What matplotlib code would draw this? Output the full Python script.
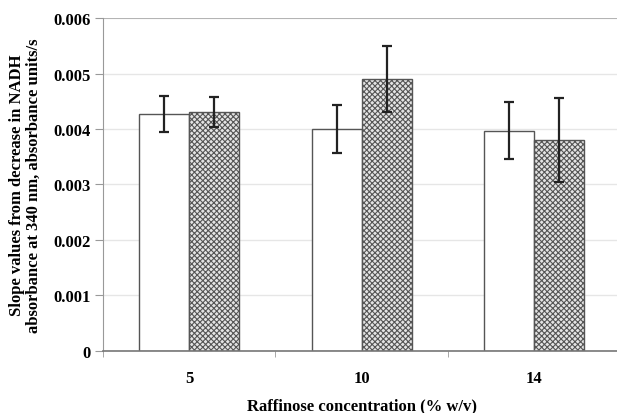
import matplotlib
matplotlib.use("Agg")
import matplotlib.pyplot as plt
import numpy as np

categories = ["5", "10", "14"]
series_a = [0.00427, 0.00400, 0.00397]
err_a = [0.00033, 0.00043, 0.00051]
series_b = [0.00430, 0.00490, 0.00380]
err_b = [0.00027, 0.00060, 0.00075]
yticks = [0, 0.001, 0.002, 0.003, 0.004, 0.005, 0.006]
ytick_labels = ["0", "0.001", "0.002", "0.003", "0.004", "0.005", "0.006"]

plt.rcParams['font.family'] = ['Liberation Serif', 'DejaVu Serif']
plt.rcParams['hatch.linewidth'] = 0.8
plt.rcParams['hatch.color'] = '#6a6a6a'

fig = plt.figure(figsize=(6.17, 4.14), dpi=100)
ax = fig.add_axes([0.167, 0.150, 0.838, 0.804])

x = np.arange(len(categories))
w = 0.29
ax.bar(x - w/2, series_a, w, color='white', edgecolor='#555555', linewidth=1.0, zorder=2)
ax.bar(x + w/2, series_b, w, color='#e4e4e4', edgecolor='#555555', linewidth=1.0,
       hatch='xxxxxx', zorder=2)
ax.errorbar(x - w/2, series_a, yerr=err_a, fmt='none', ecolor='#222222', elinewidth=1.6,
            capsize=3.5, capthick=1.6, zorder=3)
ax.errorbar(x + w/2, series_b, yerr=err_b, fmt='none', ecolor='#222222', elinewidth=1.6,
            capsize=3.5, capthick=1.6, zorder=3)

ax.set_xlim(-0.5, len(categories) - 0.5)
ax.set_ylim(0, 0.006)
ax.set_yticks(yticks)
ax.set_yticklabels(ytick_labels, fontsize=12, fontweight='bold')
ax.set_xticks(x)
ax.set_xticklabels(categories, fontsize=12, fontweight='bold')
ax.set_xticks(np.arange(len(categories) + 1) - 0.5, minor=True)
ax.tick_params(axis='x', which='major', length=0, pad=14)
ax.tick_params(axis='x', which='minor', length=4, color='#999999')
ax.tick_params(axis='y', length=6, color='#999999', pad=3)

ax.grid(axis='y', color='#e6e6e6', linewidth=1.0, zorder=0)
ax.set_axisbelow(True)
for s in ['top', 'right']:
    ax.spines[s].set_visible(False)
ax.spines['left'].set_color('#999999')
ax.spines['bottom'].set_color('#777777')
ax.spines['bottom'].set_linewidth(1.2)
ax.axhline(0.006, color='#aaaaaa', linewidth=1.2, zorder=1)

ax.set_xlabel("Raffinose concentration (% w/v)", fontsize=12, fontweight='bold', labelpad=8)
ax.set_ylabel("Slope values from decrease in NADH\nabsorbance at 340 nm, absorbance units/s",
              fontsize=12, fontweight='bold', labelpad=8, linespacing=1.1)

fig.savefig("out.png", dpi=100)
